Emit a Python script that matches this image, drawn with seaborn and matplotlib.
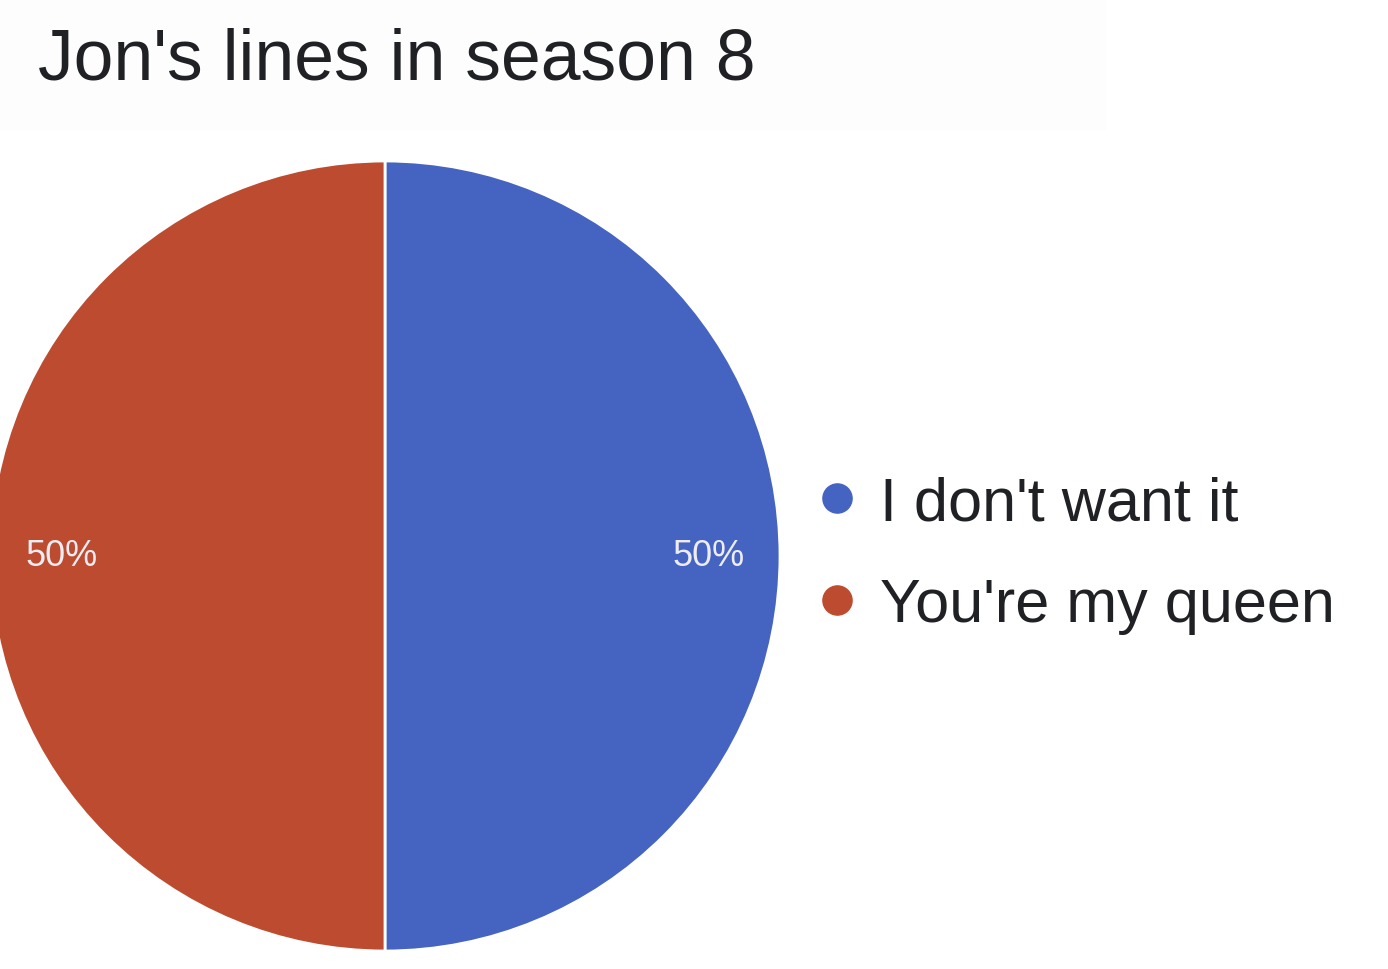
import matplotlib
matplotlib.use("Agg")
import matplotlib.pyplot as plt
import seaborn as sns
from matplotlib.lines import Line2D
from matplotlib.patches import Rectangle

# data
labels = ["I don't want it", "You're my queen"]
values = [50, 50]
colors = ["#4563C1", "#BD4B2F"]
title = "Jon's lines in season 8"

sns.set_theme(style="white")
plt.rcParams['font.family'] = ['Liberation Sans', 'DejaVu Sans']

fig = plt.figure(figsize=(13.88, 9.70), dpi=100)
fig.patch.set_facecolor("white")

# faint panel behind the title
fig.patches.append(Rectangle((0, 1 - 130 / 970), 1105 / 1388, 130 / 970,
                             transform=fig.transFigure, color="#FDFDFE", zorder=0))

# pie: centre (385, 557) px, radius 395 px
ax = fig.add_axes([(385 - 395) / 1388, (970 - 557 - 395) / 970, 790 / 1388, 790 / 970])
wedges, texts, autotexts = ax.pie(
    values, colors=colors, startangle=90, counterclock=False,
    autopct="%d%%", pctdistance=0.82, radius=1,
    wedgeprops=dict(edgecolor="white", linewidth=2),
    textprops=dict(color="#ECECF2", fontsize=26),
)
ax.set_xlim(-1, 1)
ax.set_ylim(-1, 1)
ax.set_aspect("equal")
ax.axis("off")

fig.text(38 / 1388, 1 - 80 / 970, title, fontsize=51.5, color="#202124",
         ha="left", va="baseline")

handles = [Line2D([], [], marker="o", linestyle="", markersize=21,
                  markerfacecolor=c, markeredgecolor=c) for c in colors]
fig.legend(handles, labels, loc="center left",
           bbox_to_anchor=(791 / 1388, 1 - 556 / 970),
           frameon=False, fontsize=44, handlelength=0.5, handletextpad=0.45,
           labelspacing=0.73, borderpad=0, labelcolor="#202124")

fig.savefig("out.png", dpi=100)
